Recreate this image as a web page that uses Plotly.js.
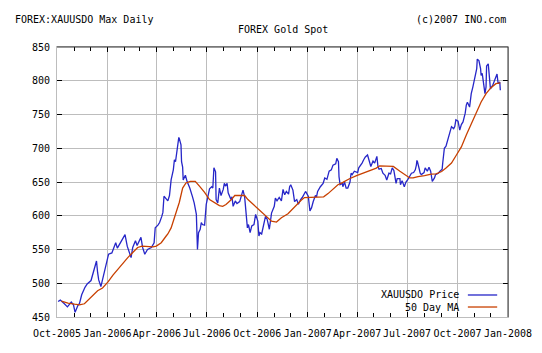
<!DOCTYPE html>
<html>
<head>
<meta charset="utf-8">
<script src="https://cdn.plot.ly/plotly-3.0.1.min.js"></script>
<style>html,body{margin:0;padding:0;background:#fff}#chart{width:542px;height:353px}</style>
</head>
<body>
<div id="chart"></div>
<script>
const priceDates = ["2005-10-03","2005-10-07","2005-10-14","2005-10-20","2005-10-27","2005-10-31","2005-11-03","2005-11-08","2005-11-11","2005-11-15","2005-11-21","2005-11-25","2005-12-02","2005-12-07","2005-12-12","2005-12-14","2005-12-16","2005-12-20","2005-12-23","2005-12-27","2005-12-30",
"2006-01-03","2006-01-09","2006-01-13","2006-01-16","2006-01-19","2006-01-23","2006-01-26","2006-01-31","2006-02-02","2006-02-06","2006-02-08","2006-02-13","2006-02-16","2006-02-21","2006-02-24","2006-03-01","2006-03-03","2006-03-06","2006-03-10","2006-03-15","2006-03-22","2006-03-27","2006-03-29",
"2006-04-03","2006-04-06","2006-04-10","2006-04-12","2006-04-14","2006-04-18","2006-04-21","2006-04-24","2006-04-27","2006-05-01","2006-05-03","2006-05-05","2006-05-08","2006-05-11","2006-05-12","2006-05-15","2006-05-16","2006-05-18","2006-05-19","2006-05-23","2006-05-26","2006-05-31",
"2006-06-02","2006-06-05","2006-06-08","2006-06-12","2006-06-14","2006-06-16","2006-06-19","2006-06-21","2006-06-23","2006-06-27","2006-06-30","2006-07-03","2006-07-06","2006-07-10","2006-07-12","2006-07-14","2006-07-17","2006-07-18","2006-07-21","2006-07-24","2006-07-27","2006-07-31",
"2006-08-02","2006-08-04","2006-08-07","2006-08-09","2006-08-14","2006-08-16","2006-08-18","2006-08-22","2006-08-25","2006-08-30","2006-09-01","2006-09-05","2006-09-08","2006-09-11","2006-09-13","2006-09-15","2006-09-18","2006-09-21","2006-09-25","2006-09-28",
"2006-10-02","2006-10-04","2006-10-06","2006-10-09","2006-10-13","2006-10-16","2006-10-19","2006-10-23","2006-10-27","2006-11-01","2006-11-03","2006-11-06","2006-11-10","2006-11-14","2006-11-17","2006-11-20","2006-11-23","2006-11-27","2006-11-29","2006-12-01","2006-12-05","2006-12-07","2006-12-08","2006-12-12","2006-12-15","2006-12-19","2006-12-22","2006-12-28",
"2007-01-02","2007-01-05","2007-01-08","2007-01-11","2007-01-15","2007-01-17","2007-01-19","2007-01-24","2007-01-29","2007-02-01","2007-02-05","2007-02-09","2007-02-13","2007-02-16","2007-02-21","2007-02-23","2007-02-26","2007-02-27","2007-03-01","2007-03-05","2007-03-06","2007-03-09","2007-03-12","2007-03-15","2007-03-19","2007-03-21","2007-03-23","2007-03-27",
"2007-04-02","2007-04-04","2007-04-06","2007-04-10","2007-04-13","2007-04-16","2007-04-20","2007-04-23","2007-04-26","2007-04-30","2007-05-03","2007-05-07","2007-05-09","2007-05-11","2007-05-15","2007-05-18","2007-05-22","2007-05-25","2007-05-29","2007-06-01","2007-06-04","2007-06-07","2007-06-11","2007-06-13","2007-06-18","2007-06-19","2007-06-22","2007-06-26","2007-06-29",
"2007-07-02","2007-07-06","2007-07-09","2007-07-13","2007-07-16","2007-07-18","2007-07-19","2007-07-20","2007-07-23","2007-07-25","2007-07-27","2007-08-01","2007-08-03","2007-08-07","2007-08-10","2007-08-13","2007-08-16","2007-08-20","2007-08-22","2007-08-27","2007-08-30",
"2007-09-03","2007-09-04","2007-09-07","2007-09-10","2007-09-13","2007-09-17","2007-09-20","2007-09-24","2007-09-26","2007-09-28","2007-10-02","2007-10-05","2007-10-08","2007-10-11","2007-10-15","2007-10-17","2007-10-19","2007-10-23","2007-10-26","2007-10-29",
"2007-11-01","2007-11-05","2007-11-06","2007-11-09","2007-11-12","2007-11-13","2007-11-15","2007-11-19","2007-11-20","2007-11-22","2007-11-23","2007-11-26","2007-11-28","2007-11-30","2007-12-04","2007-12-07","2007-12-10","2007-12-12","2007-12-14","2007-12-17","2007-12-18"];
const priceVals = [473,475,470,465,472,468,457,467,470,483,494,499,504,518,533,516,505,495,505,518,531,
543,545,555,560,552,558,563,570,572,555,550,538,553,563,556,565,568,553,543,550,553,560,582,
586,590,599,605,629,625,622,630,653,668,683,680,697,716,714,705,680,672,653,660,651,641,
634,628,619,602,550,575,580,590,587,586,617,631,640,643,641,671,665,624,619,641,630,639,
648,644,648,634,624,628,614,622,618,621,628,638,628,602,582,587,575,585,587,602,
592,570,575,573,587,599,595,580,604,614,626,622,627,622,639,631,636,632,643,646,638,629,621,624,617,624,627,636,
629,607,612,621,630,628,636,643,648,656,654,666,668,675,677,685,680,658,646,648,643,650,641,641,650,663,661,666,
664,671,673,678,683,687,690,681,673,681,678,688,673,669,670,663,660,653,663,662,671,667,648,655,655,646,652,643,650,
653,658,663,664,668,675,682,680,670,663,661,664,671,666,672,666,651,656,661,663,666,
669,678,700,703,712,722,732,729,732,742,740,727,735,739,752,764,768,761,781,791,
805,818,832,830,818,808,811,788,781,791,822,825,808,788,793,800,806,810,796,798,786];

const maDates = ["2005-10-09","2005-10-21","2005-11-02","2005-11-11","2005-11-20","2005-11-26","2005-12-05","2005-12-14","2005-12-23","2006-01-02","2006-01-11","2006-01-20","2006-01-29","2006-02-07","2006-02-16","2006-02-25","2006-03-05","2006-03-16","2006-03-25","2006-03-31","2006-04-09","2006-04-18","2006-04-21","2006-04-27","2006-04-30","2006-05-06","2006-05-12","2006-05-18","2006-05-24","2006-06-01","2006-06-10","2006-06-18","2006-06-27","2006-07-06","2006-07-15","2006-07-24","2006-07-30","2006-08-05","2006-08-15","2006-08-21","2006-09-02","2006-09-08","2006-09-14","2006-09-26","2006-10-08","2006-10-17","2006-10-27","2006-11-05","2006-11-14","2006-11-26","2006-12-08","2006-12-20","2006-12-26","2007-01-04","2007-01-16","2007-01-30","2007-02-07","2007-02-16","2007-02-25","2007-03-06","2007-03-18","2007-03-31","2007-04-12","2007-04-23","2007-05-06","2007-05-12","2007-05-24","2007-06-06","2007-06-18","2007-06-27","2007-07-06","2007-07-12","2007-07-21","2007-08-02","2007-08-14","2007-08-23","2007-09-02","2007-09-10","2007-09-20","2007-09-29","2007-10-08","2007-10-17","2007-10-26","2007-11-04","2007-11-13","2007-11-22","2007-12-01","2007-12-10","2007-12-18"];
const maVals = [473.5,470.6,469,468,469.6,474.5,481.8,489,493,502,512,521,530,538,545.6,553,555,554,554,555,560,570,573,582,590,605,620,641,648.5,651,651,643.5,634.7,624,619,615,614,616.6,624,630,630.3,630,624,615,605,599,592,590.6,597,603,613.5,623,627,627,627,628,632.8,639.7,646,649.4,654.8,659.3,663,665.6,670.6,674,674,673,666,660.5,656,656,658,659.3,661.8,662,665.6,670.6,678,690,702,719.6,736.8,753.8,768.5,781,789.7,795.6,797];

const tickLabelsY = [450,500,550,600,650,700,750,800,850];
const seriesNames = ["XAUUSDO Price","50 Day MA"];
const priceColor = "#2626c8";
const maColor = "#c84000";

const font = {family:"DejaVu Sans Mono, monospace", size:10, color:"#000"};

const traces = [
  {x:priceDates, y:priceVals, type:"scatter", mode:"lines", name:seriesNames[0], line:{color:priceColor, width:1.3}, showlegend:false, hoverinfo:"skip"},
  {x:maDates, y:maVals, type:"scatter", mode:"lines", name:seriesNames[1], line:{color:maColor, width:1.3}, showlegend:false, hoverinfo:"skip"}
];

const layout = {
  width:542, height:353,
  margin:{l:57, r:34, t:47, b:36},
  paper_bgcolor:"#fff", plot_bgcolor:"#fff",
  font:font,
  showlegend:false,
  xaxis:{
    type:"date", range:["2005-10-01","2008-01-01"],
    tick0:"2005-10-01", dtick:"M3", tickformat:"%b-%Y", tickangle:0,
    ticks:"inside", ticklen:5, tickcolor:"#000", tickwidth:1, ticklabelstandoff:7,
    showgrid:true, gridcolor:"#bdbdbd", gridwidth:1,
    showline:true, linecolor:"#bdbdbd", linewidth:1, mirror:"ticks",
    minor:{dtick:"M1", ticks:"inside", ticklen:4, tickcolor:"#000", showgrid:false},
    zeroline:false, tickfont:font, fixedrange:true
  },
  yaxis:{
    range:[450,850], tickvals:tickLabelsY, ticktext:tickLabelsY.map(String),
    ticks:"inside", ticklen:5, tickcolor:"#000", tickwidth:1, ticklabelstandoff:4,
    showgrid:true, gridcolor:"#bdbdbd", gridwidth:1,
    showline:true, linecolor:"#bdbdbd", linewidth:1, mirror:"ticks",
    zeroline:false, tickfont:font, fixedrange:true
  },
  shapes:[
    {type:"rect", xref:"paper", yref:"paper", x0:0.705, x1:0.998, y0:0.003, y1:0.105, fillcolor:"#fff", line:{width:0}, layer:"between"},
    {type:"line", xref:"paper", yref:"paper", x0:0, x1:1, y0:1, y1:1, line:{color:"#333", width:1}},
    {type:"line", xref:"paper", yref:"paper", x0:1, x1:1, y0:0, y1:1, line:{color:"#333", width:1}},
    {type:"line", xref:"paper", yref:"paper", x0:0.911, x1:0.976, y0:0.0815, y1:0.0815, line:{color:priceColor, width:1.3}},
    {type:"line", xref:"paper", yref:"paper", x0:0.911, x1:0.976, y0:0.037, y1:0.037, line:{color:maColor, width:1.3}}
  ],
  annotations:[
    {text:"FOREX:XAUUSDO Max Daily", xref:"paper", yref:"paper", x:-0.0986, y:1.1, xanchor:"left", yanchor:"middle", showarrow:false, font:font},
    {text:"(c)2007 INO.com", xref:"paper", yref:"paper", x:1, y:1.1, xanchor:"right", yanchor:"middle", showarrow:false, font:font},
    {text:"FOREX Gold Spot", xref:"paper", yref:"paper", x:0.5, y:1.065, xanchor:"center", yanchor:"middle", showarrow:false, font:font},
    {text:seriesNames[0], xref:"paper", yref:"paper", x:0.896, y:0.0815, xanchor:"right", yanchor:"middle", showarrow:false, font:font},
    {text:seriesNames[1], xref:"paper", yref:"paper", x:0.896, y:0.037, xanchor:"right", yanchor:"middle", showarrow:false, font:font}
  ]
};

Plotly.newPlot("chart", traces, layout, {staticPlot:true, displayModeBar:false});
</script>
</body>
</html>
